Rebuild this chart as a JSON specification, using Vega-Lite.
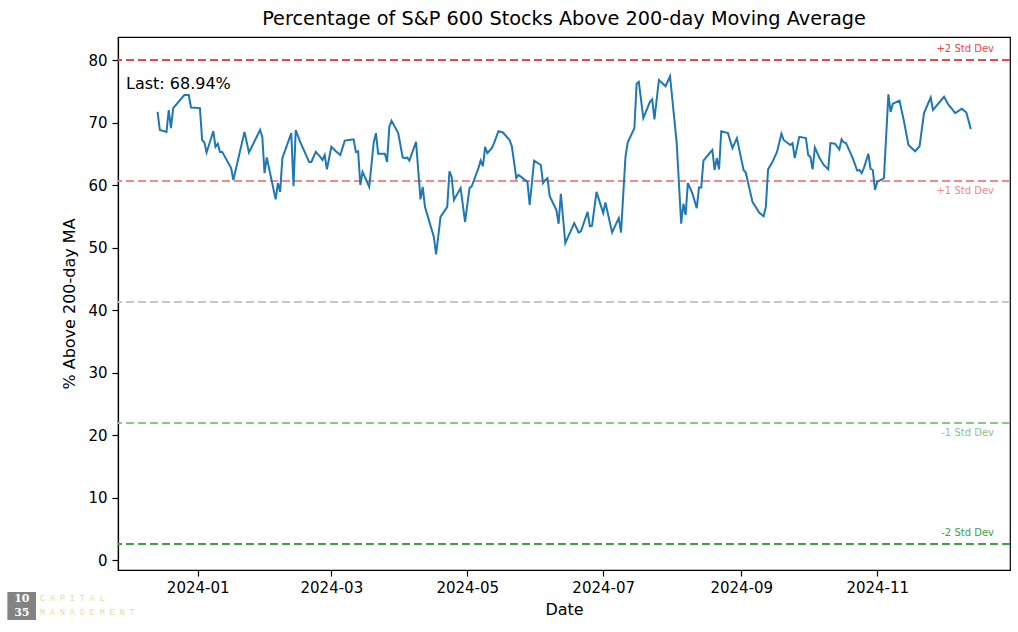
{
  "$schema": "https://vega.github.io/schema/vega-lite/v6.json",
  "width": 892,
  "height": 533,
  "autosize": {"type": "none"},
  "padding": {"left": 118, "top": 37, "right": 8, "bottom": 62},
  "background": "white",
  "title": {"text": "Percentage of S&P 600 Stocks Above 200-day Moving Average", "font": "DejaVu Sans", "fontSize": 19.3, "fontWeight": "normal", "color": "black", "anchor": "middle", "offset": 8},
  "config": {
    "font": "DejaVu Sans",
    "view": {"stroke": "black", "strokeWidth": 1.2},
    "axis": {"labelFont": "DejaVu Sans", "titleFont": "DejaVu Sans", "labelFontSize": 15, "titleFontSize": 16, "titleFontWeight": "normal", "labelColor": "black", "titleColor": "black", "domainColor": "black", "tickColor": "black", "tickSize": 6, "domainWidth": 1.2, "tickWidth": 1.2, "grid": false}
  },
  "datasets": {
    "levels": [
      {"name": "+2 Std Dev", "value": 80.0},
      {"name": "+1 Std Dev", "value": 60.64},
      {"name": "Mean", "value": 41.28},
      {"name": "-1 Std Dev", "value": 21.92},
      {"name": "-2 Std Dev", "value": 2.56}
    ],
    "pct": [
      {"date": "2023-12-14", "pct": 71.7},
      {"date": "2023-12-15", "pct": 68.8},
      {"date": "2023-12-18", "pct": 68.5},
      {"date": "2023-12-19", "pct": 72.0},
      {"date": "2023-12-20", "pct": 69.1},
      {"date": "2023-12-21", "pct": 72.3},
      {"date": "2023-12-26", "pct": 74.4},
      {"date": "2023-12-28", "pct": 74.4},
      {"date": "2023-12-29", "pct": 72.4},
      {"date": "2024-01-02", "pct": 72.3},
      {"date": "2024-01-03", "pct": 67.2},
      {"date": "2024-01-04", "pct": 66.8},
      {"date": "2024-01-05", "pct": 65.2},
      {"date": "2024-01-08", "pct": 68.6},
      {"date": "2024-01-09", "pct": 66.1},
      {"date": "2024-01-10", "pct": 66.6},
      {"date": "2024-01-11", "pct": 65.3},
      {"date": "2024-01-12", "pct": 65.3},
      {"date": "2024-01-16", "pct": 62.7},
      {"date": "2024-01-17", "pct": 60.8},
      {"date": "2024-01-22", "pct": 68.5},
      {"date": "2024-01-24", "pct": 65.2},
      {"date": "2024-01-29", "pct": 68.8},
      {"date": "2024-01-30", "pct": 67.7},
      {"date": "2024-01-31", "pct": 61.9},
      {"date": "2024-02-01", "pct": 64.4},
      {"date": "2024-02-05", "pct": 57.7},
      {"date": "2024-02-06", "pct": 60.3},
      {"date": "2024-02-07", "pct": 58.9},
      {"date": "2024-02-08", "pct": 64.3},
      {"date": "2024-02-12", "pct": 68.3},
      {"date": "2024-02-13", "pct": 59.8},
      {"date": "2024-02-14", "pct": 68.8},
      {"date": "2024-02-16", "pct": 66.9},
      {"date": "2024-02-20", "pct": 63.7},
      {"date": "2024-02-21", "pct": 63.7},
      {"date": "2024-02-23", "pct": 65.3},
      {"date": "2024-02-25", "pct": 64.5},
      {"date": "2024-02-26", "pct": 64.0},
      {"date": "2024-02-27", "pct": 64.8},
      {"date": "2024-02-28", "pct": 62.5},
      {"date": "2024-03-01", "pct": 66.1},
      {"date": "2024-03-03", "pct": 65.4},
      {"date": "2024-03-05", "pct": 64.8},
      {"date": "2024-03-07", "pct": 67.1},
      {"date": "2024-03-09", "pct": 67.2},
      {"date": "2024-03-11", "pct": 67.3},
      {"date": "2024-03-12", "pct": 65.3},
      {"date": "2024-03-13", "pct": 65.4},
      {"date": "2024-03-14", "pct": 60.0},
      {"date": "2024-03-15", "pct": 62.1},
      {"date": "2024-03-16", "pct": 61.3},
      {"date": "2024-03-18", "pct": 59.7},
      {"date": "2024-03-20", "pct": 66.8},
      {"date": "2024-03-21", "pct": 68.3},
      {"date": "2024-03-22", "pct": 65.0},
      {"date": "2024-03-25", "pct": 65.0},
      {"date": "2024-03-26", "pct": 63.7},
      {"date": "2024-03-27", "pct": 69.3},
      {"date": "2024-03-28", "pct": 70.3},
      {"date": "2024-03-31", "pct": 68.3},
      {"date": "2024-04-02", "pct": 64.4},
      {"date": "2024-04-03", "pct": 64.3},
      {"date": "2024-04-04", "pct": 64.4},
      {"date": "2024-04-05", "pct": 63.9},
      {"date": "2024-04-08", "pct": 66.9},
      {"date": "2024-04-10", "pct": 57.7},
      {"date": "2024-04-11", "pct": 59.7},
      {"date": "2024-04-12", "pct": 56.5},
      {"date": "2024-04-14", "pct": 54.1},
      {"date": "2024-04-16", "pct": 51.7},
      {"date": "2024-04-17", "pct": 48.9},
      {"date": "2024-04-19", "pct": 54.9},
      {"date": "2024-04-22", "pct": 56.5},
      {"date": "2024-04-23", "pct": 62.2},
      {"date": "2024-04-24", "pct": 61.3},
      {"date": "2024-04-25", "pct": 57.6},
      {"date": "2024-04-28", "pct": 59.5},
      {"date": "2024-04-30", "pct": 54.1},
      {"date": "2024-05-02", "pct": 59.5},
      {"date": "2024-05-03", "pct": 59.8},
      {"date": "2024-05-06", "pct": 62.7},
      {"date": "2024-05-07", "pct": 63.9},
      {"date": "2024-05-08", "pct": 63.0},
      {"date": "2024-05-09", "pct": 66.1},
      {"date": "2024-05-10", "pct": 65.1},
      {"date": "2024-05-12", "pct": 65.9},
      {"date": "2024-05-13", "pct": 66.7},
      {"date": "2024-05-15", "pct": 68.6},
      {"date": "2024-05-17", "pct": 68.4},
      {"date": "2024-05-20", "pct": 67.2},
      {"date": "2024-05-21", "pct": 66.2},
      {"date": "2024-05-23", "pct": 61.1},
      {"date": "2024-05-24", "pct": 61.6},
      {"date": "2024-05-28", "pct": 60.5},
      {"date": "2024-05-29", "pct": 56.8},
      {"date": "2024-05-31", "pct": 63.9},
      {"date": "2024-06-03", "pct": 63.2},
      {"date": "2024-06-04", "pct": 60.3},
      {"date": "2024-06-05", "pct": 60.8},
      {"date": "2024-06-06", "pct": 61.1},
      {"date": "2024-06-07", "pct": 58.2},
      {"date": "2024-06-10", "pct": 56.0},
      {"date": "2024-06-11", "pct": 53.8},
      {"date": "2024-06-12", "pct": 58.6},
      {"date": "2024-06-14", "pct": 50.7},
      {"date": "2024-06-18", "pct": 53.9},
      {"date": "2024-06-20", "pct": 52.4},
      {"date": "2024-06-21", "pct": 52.6},
      {"date": "2024-06-24", "pct": 55.7},
      {"date": "2024-06-25", "pct": 53.4},
      {"date": "2024-06-26", "pct": 53.5},
      {"date": "2024-06-28", "pct": 58.9},
      {"date": "2024-07-01", "pct": 55.5},
      {"date": "2024-07-02", "pct": 57.2},
      {"date": "2024-07-05", "pct": 52.4},
      {"date": "2024-07-08", "pct": 54.7},
      {"date": "2024-07-09", "pct": 52.4},
      {"date": "2024-07-11", "pct": 64.5},
      {"date": "2024-07-12", "pct": 66.8},
      {"date": "2024-07-15", "pct": 69.1},
      {"date": "2024-07-16", "pct": 76.2},
      {"date": "2024-07-17", "pct": 76.5},
      {"date": "2024-07-19", "pct": 70.7},
      {"date": "2024-07-22", "pct": 73.3},
      {"date": "2024-07-23", "pct": 73.7},
      {"date": "2024-07-24", "pct": 70.5},
      {"date": "2024-07-26", "pct": 76.8},
      {"date": "2024-07-29", "pct": 75.8},
      {"date": "2024-07-31", "pct": 77.4},
      {"date": "2024-08-03", "pct": 66.7},
      {"date": "2024-08-05", "pct": 53.8},
      {"date": "2024-08-06", "pct": 57.0},
      {"date": "2024-08-07", "pct": 55.2},
      {"date": "2024-08-08", "pct": 60.3},
      {"date": "2024-08-10", "pct": 58.7},
      {"date": "2024-08-12", "pct": 56.3},
      {"date": "2024-08-13", "pct": 59.6},
      {"date": "2024-08-14", "pct": 59.6},
      {"date": "2024-08-15", "pct": 63.9},
      {"date": "2024-08-18", "pct": 65.2},
      {"date": "2024-08-19", "pct": 65.6},
      {"date": "2024-08-20", "pct": 62.4},
      {"date": "2024-08-21", "pct": 64.3},
      {"date": "2024-08-22", "pct": 62.5},
      {"date": "2024-08-23", "pct": 68.6},
      {"date": "2024-08-26", "pct": 68.3},
      {"date": "2024-08-28", "pct": 65.9},
      {"date": "2024-08-30", "pct": 67.5},
      {"date": "2024-09-02", "pct": 62.4},
      {"date": "2024-09-03", "pct": 62.0},
      {"date": "2024-09-06", "pct": 57.3},
      {"date": "2024-09-09", "pct": 55.6},
      {"date": "2024-09-11", "pct": 55.0},
      {"date": "2024-09-12", "pct": 56.5},
      {"date": "2024-09-13", "pct": 62.5},
      {"date": "2024-09-15", "pct": 63.7},
      {"date": "2024-09-17", "pct": 65.3},
      {"date": "2024-09-19", "pct": 68.2},
      {"date": "2024-09-20", "pct": 67.2},
      {"date": "2024-09-23", "pct": 66.4},
      {"date": "2024-09-24", "pct": 66.7},
      {"date": "2024-09-25", "pct": 64.3},
      {"date": "2024-09-27", "pct": 67.7},
      {"date": "2024-09-30", "pct": 67.5},
      {"date": "2024-10-01", "pct": 64.8},
      {"date": "2024-10-02", "pct": 64.5},
      {"date": "2024-10-03", "pct": 62.5},
      {"date": "2024-10-04", "pct": 66.0},
      {"date": "2024-10-06", "pct": 64.4},
      {"date": "2024-10-08", "pct": 63.2},
      {"date": "2024-10-10", "pct": 62.5},
      {"date": "2024-10-11", "pct": 66.7},
      {"date": "2024-10-13", "pct": 66.6},
      {"date": "2024-10-15", "pct": 65.7},
      {"date": "2024-10-16", "pct": 67.3},
      {"date": "2024-10-17", "pct": 66.8},
      {"date": "2024-10-18", "pct": 66.7},
      {"date": "2024-10-20", "pct": 65.1},
      {"date": "2024-10-21", "pct": 64.3},
      {"date": "2024-10-23", "pct": 62.3},
      {"date": "2024-10-24", "pct": 62.4},
      {"date": "2024-10-25", "pct": 61.9},
      {"date": "2024-10-26", "pct": 62.7},
      {"date": "2024-10-28", "pct": 65.0},
      {"date": "2024-10-29", "pct": 62.6},
      {"date": "2024-10-30", "pct": 62.4},
      {"date": "2024-10-31", "pct": 59.2},
      {"date": "2024-11-01", "pct": 60.5},
      {"date": "2024-11-03", "pct": 60.9},
      {"date": "2024-11-04", "pct": 61.1},
      {"date": "2024-11-06", "pct": 74.5},
      {"date": "2024-11-07", "pct": 71.7},
      {"date": "2024-11-08", "pct": 73.0},
      {"date": "2024-11-11", "pct": 73.5},
      {"date": "2024-11-13", "pct": 70.2},
      {"date": "2024-11-15", "pct": 66.4},
      {"date": "2024-11-18", "pct": 65.4},
      {"date": "2024-11-20", "pct": 66.2},
      {"date": "2024-11-22", "pct": 71.5},
      {"date": "2024-11-25", "pct": 74.0},
      {"date": "2024-11-26", "pct": 72.0},
      {"date": "2024-12-01", "pct": 74.1},
      {"date": "2024-12-03", "pct": 72.8},
      {"date": "2024-12-04", "pct": 72.4},
      {"date": "2024-12-06", "pct": 71.5},
      {"date": "2024-12-09", "pct": 72.2},
      {"date": "2024-12-11", "pct": 71.6},
      {"date": "2024-12-13", "pct": 68.94}
    ]
  },
  "layer": [
    {
      "data": {"name": "levels"},
      "mark": {"type": "rule", "strokeDash": [8, 4], "strokeWidth": 2},
      "encoding": {
        "y": {"field": "value", "type": "quantitative", "title": "% Above 200-day MA", "scale": {"domain": [-1.6, 83.68], "nice": false, "zero": false}},
        "color": {"field": "name", "type": "nominal", "legend": null, "scale": {"domain": ["+2 Std Dev", "+1 Std Dev", "Mean", "-1 Std Dev", "-2 Std Dev"], "range": ["#e8474a", "#f08a8a", "#c8c8c8", "#8cc48c", "#44a044"]}}
      }
    },
    {
      "data": {"name": "pct"},
      "mark": {"type": "line", "color": "#1f77b4", "strokeWidth": 2},
      "encoding": {
        "x": {"field": "date", "type": "temporal", "title": "Date",
          "scale": {"type": "utc", "domain": [{"year": 2023, "month": 11, "date": 26, "hours": 5, "minutes": 30, "utc": true}, {"year": 2024, "month": 12, "date": 30, "hours": 14, "minutes": 10, "utc": true}]},
          "axis": {"labelExpr": "utcFormat(datum.value, '%Y-%m')", "labelPadding": 4, "titlePadding": 6,
            "values": [{"year": 2024, "month": 1, "date": 1, "utc": true}, {"year": 2024, "month": 3, "date": 1, "utc": true}, {"year": 2024, "month": 5, "date": 1, "utc": true}, {"year": 2024, "month": 7, "date": 1, "utc": true}, {"year": 2024, "month": 9, "date": 1, "utc": true}, {"year": 2024, "month": 11, "date": 1, "utc": true}]}},
        "y": {"field": "pct", "type": "quantitative", "title": "% Above 200-day MA",
          "scale": {"domain": [-1.6, 83.68], "nice": false, "zero": false},
          "axis": {"values": [0, 10, 20, 30, 40, 50, 60, 70, 80], "labelPadding": 5, "titlePadding": 10}}
      }
    },
    {
      "data": {"name": "levels"},
      "transform": [{"filter": "datum.name == '+2 Std Dev' || datum.name == '-2 Std Dev'"}],
      "mark": {"type": "text", "align": "right", "baseline": "middle", "dy": -11, "fontSize": 10, "font": "DejaVu Sans"},
      "encoding": {
        "x": {"datum": {"year": 2024, "month": 12, "date": 23, "hours": 9, "minutes": 36, "utc": true}, "type": "temporal"},
        "y": {"field": "value", "type": "quantitative", "title": "% Above 200-day MA"},
        "text": {"field": "name"},
        "color": {"field": "name", "type": "nominal", "legend": null}
      }
    },
    {
      "data": {"name": "levels"},
      "transform": [{"filter": "datum.name == '+1 Std Dev' || datum.name == '-1 Std Dev'"}],
      "mark": {"type": "text", "align": "right", "baseline": "middle", "dy": 10, "fontSize": 10, "font": "DejaVu Sans"},
      "encoding": {
        "x": {"datum": {"year": 2024, "month": 12, "date": 23, "hours": 9, "minutes": 36, "utc": true}, "type": "temporal"},
        "y": {"field": "value", "type": "quantitative", "title": "% Above 200-day MA"},
        "text": {"field": "name"},
        "color": {"field": "name", "type": "nominal", "legend": null}
      }
    },
    {
      "data": {"values": [{"label": "Last: 68.94%"}]},
      "mark": {"type": "text", "align": "left", "baseline": "middle", "fontSize": 16, "font": "DejaVu Sans", "color": "black"},
      "encoding": {
        "x": {"datum": {"year": 2023, "month": 11, "date": 29, "hours": 19, "minutes": 40, "utc": true}, "type": "temporal"},
        "y": {"datum": 76.16, "type": "quantitative"},
        "text": {"field": "label"}
      }
    },
    {
      "data": {"values": [{}]},
      "mark": {"type": "rect", "color": "#838383"},
      "encoding": {
        "x": {"datum": {"year": 2023, "month": 10, "date": 7, "hours": 14, "utc": true}, "type": "temporal"},
        "x2": {"datum": {"year": 2023, "month": 10, "date": 20, "hours": 10, "utc": true}},
        "y": {"datum": -5.12, "type": "quantitative"},
        "y2": {"datum": -9.6}
      }
    },
    {
      "data": {"values": [{"t": "10", "row": -6.3}, {"t": "35", "row": -8.4}]},
      "mark": {"type": "text", "align": "center", "baseline": "middle", "fontSize": 11, "font": "DejaVu Serif", "fontWeight": "bold", "color": "white"},
      "encoding": {
        "x": {"datum": {"year": 2023, "month": 10, "date": 14, "hours": 2, "utc": true}, "type": "temporal"},
        "y": {"field": "row", "type": "quantitative", "title": "% Above 200-day MA"},
        "text": {"field": "t"}
      }
    },
    {
      "data": {"values": [{"t": "C A P I T A L", "row": -6.3}, {"t": "M A N A G E M E N T", "row": -8.4}]},
      "mark": {"type": "text", "align": "left", "baseline": "middle", "fontSize": 8.3, "font": "Liberation Mono", "color": "#e9d99c"},
      "encoding": {
        "x": {"datum": {"year": 2023, "month": 10, "date": 22, "hours": 5, "utc": true}, "type": "temporal"},
        "y": {"field": "row", "type": "quantitative", "title": "% Above 200-day MA"},
        "text": {"field": "t"}
      }
    }
  ]
}
